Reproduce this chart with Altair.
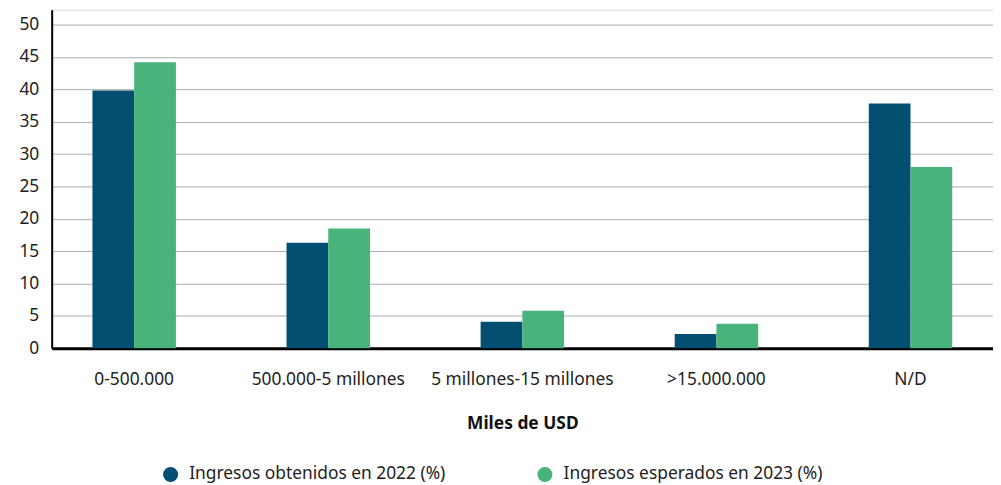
import altair as alt
import pandas as pd

categories = ["0-500.000", "500.000-5 millones", "5 millones-15 millones", ">15.000.000", "N/D"]
series = ["Ingresos obtenidos en 2022 (%)", "Ingresos esperados en 2023 (%)"]
obtenidos_2022 = [39.8, 16.3, 4.1, 2.2, 37.8]
esperados_2023 = [44.2, 18.5, 5.8, 3.8, 28.0]
y_ticks = [0, 5, 10, 15, 20, 25, 30, 35, 40, 45, 50]
colors = ["#024F72", "#48B37A"]

rows = []
for c, a, b in zip(categories, obtenidos_2022, esperados_2023):
    rows.append({"cat": c, "serie": series[0], "val": a})
    rows.append({"cat": c, "serie": series[1], "val": b})
df = pd.DataFrame(rows)

FONT = "Noto Sans"
FS = 17.5

chart = alt.Chart(df).mark_bar().encode(
    x=alt.X("cat:N", sort=categories,
            scale=alt.Scale(paddingInner=0.57, paddingOuter=0.21),
            axis=alt.Axis(title="Miles de USD", labelAngle=0, labelPadding=22,
                          labelFontSize=FS, labelColor="#222", titleFontSize=FS,
                          titleFontWeight="bold", titleColor="#111", titlePadding=27,
                          labelLimit=400, labelOverlap=False,
                          ticks=False, domainColor="#000", domainWidth=3,
                          labelFont=FONT, titleFont=FONT)),
    xOffset=alt.XOffset("serie:N", sort=series),
    y=alt.Y("val:Q", scale=alt.Scale(domain=[0, 52.3], nice=False),
            axis=alt.Axis(title=None, values=y_ticks, labelFontSize=FS, labelColor="#222",
                          labelPadding=13, ticks=False, domainColor="#000", domainWidth=2,
                          grid=True, gridColor="#aaaaaa", gridWidth=1, labelFont=FONT)),
    color=alt.Color("serie:N", sort=series,
                    scale=alt.Scale(domain=series, range=colors),
                    legend=alt.Legend(title=None, orient="none", legendX=111, legendY=459,
                                      direction="horizontal", symbolType="circle",
                                      symbolSize=230, labelFontSize=FS, labelColor="#222",
                                      labelFont=FONT, columnPadding=91, symbolStrokeWidth=0,
                                      labelOffset=10, labelLimit=400)),
).properties(
    width=948, height=341,
    autosize=alt.AutoSizeParams(type="none"),
    padding={"left": 44, "top": 0, "right": 0, "bottom": 140},
).configure_view(stroke=None).configure(font=FONT)

chart.save("out.html", embed_options={"renderer": "svg", "actions": False})
